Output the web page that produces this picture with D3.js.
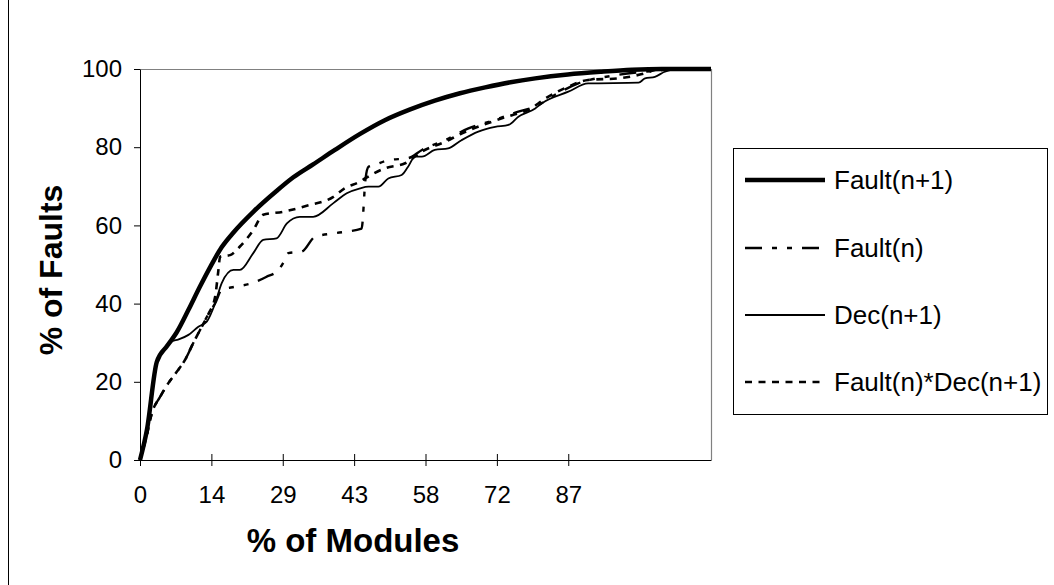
<!DOCTYPE html>
<html>
<head>
<meta charset="utf-8">
<script src="https://cdn.jsdelivr.net/npm/d3@7"></script>
<style>
  html, body { margin: 0; padding: 0; background: #fff; }
  svg { display: block; font-family: Arial, "Liberation Sans", sans-serif; }
</style>
</head>
<body>
<svg id="chart" width="1054" height="585"></svg>
<script>
// ---------------- data ----------------
const xTickStep = 14.43;
const xTickLabels = ["0", "14", "29", "43", "58", "72", "87"];
const yTickValues = [0, 20, 40, 60, 80, 100];
const xMax = 115.44;

const seriesNames = ["Fault(n+1)", "Fault(n)", "Dec(n+1)", "Fault(n)*Dec(n+1)"];

const faultN1 = [[0,0],[1.4,7.7],[3.4,25.1],[5.5,29.2],[7.4,32.6],[9.8,38.4],[12.1,44.3],[14.3,49.6],[16.5,54.4],[18.9,58.2],[23,63.6],[27.6,68.8],[31,72.3],[35,75.6],[39.4,79.3],[44.5,83.4],[49.5,86.9],[54.5,89.6],[59.6,91.9],[64.7,93.8],[69.8,95.3],[74.9,96.6],[79.9,97.6],[86.5,98.6],[93.3,99.3],[99.5,99.8],[105.5,100],[115.44,100]];

const faultN = [[0,0],[1.4,6.5],[2.4,12],[4,16],[5.7,19.6],[7.4,22.5],[9.1,25.6],[10.8,30],[12.5,34.1],[13.9,37.5],[15.2,40.1],[16.5,43.5],[19.2,44.3],[22.6,45.2],[25.5,46.8],[28,48.6],[29.3,51.2],[30,52.9],[32.7,53.3],[35.4,57.1],[39.4,58],[44.8,59.2],[45.6,72],[46.2,75],[47.5,75.5],[50.2,76.7],[54.2,77.2],[57,79.3],[61.7,81.8],[66.4,84.8],[71.8,87],[76.5,89.1],[79.9,90.4],[83.9,93.4],[88.6,96.3],[96.7,98.5],[105.5,99.7],[108,100],[115.44,100]];

const decN1 = [[0,0],[1.4,7.7],[3.4,25.1],[5.5,29.2],[6.5,30.4],[7.7,30.8],[9.8,32],[11.8,34.1],[13.5,35.4],[15.2,40.1],[16.5,45.2],[18.9,48.6],[20.2,48.6],[22.9,52.9],[24.9,56.3],[27.6,56.7],[29.7,60.5],[32.3,62.2],[35,62.2],[39.1,65.7],[41.8,68.2],[44.5,69.5],[46.2,69.9],[48.2,69.9],[50.2,72],[52.9,72.9],[54.2,75],[55.6,77.6],[57,77.6],[59.6,79.3],[62.3,79.7],[65,81.8],[68.4,84],[71.8,85.2],[74.5,85.7],[76.5,87.8],[79.9,89.9],[81.2,91.2],[86.6,94.2],[90.6,96.3],[100.8,96.5],[102.1,97.6],[104.1,98],[106.1,99.3],[108.2,100],[115.44,100]];

const faultNxDecN1 = [[0,0],[1.4,6.5],[2.4,12],[4,16],[5.7,19.6],[7.4,22.5],[9.1,25.6],[10.8,30],[12.5,34.1],[13.9,37.5],[15.2,41.8],[15.8,48],[16.2,52],[18.2,52.4],[20.2,54.6],[22.9,58.8],[24.9,62.7],[29,63.5],[33.7,65],[39.1,67.3],[41.4,69.5],[44.5,71.2],[45.5,72],[49.5,74.6],[53.6,75.9],[57,78.9],[61.7,81.4],[65,83.5],[71.1,86.5],[75.2,88.2],[78.5,89.5],[82,92.5],[86.6,95.5],[90.6,97.2],[96.7,97.6],[102.1,98.9],[105,100],[115.44,100]];

// ---------------- styles ----------------
const styles = [
  { w: 4.5, dash: null },
  { w: 2.4, dash: "17,10,5,10,5,10" },
  { w: 1.8, dash: null },
  { w: 2.6, dash: "7,6.5" }
];
const seriesData = [faultN1, faultN, decN1, faultNxDecN1];

// ---------------- layout ----------------
const svg = d3.select("#chart");
const plot = { left: 140, right: 711, top: 69, bottom: 460 };

const x = d3.scaleLinear().domain([0, xMax]).range([plot.left, plot.right]);
const y = d3.scaleLinear().domain([0, 100]).range([plot.bottom, plot.top]);

// outer left border line
svg.append("line").attr("x1", 8.5).attr("x2", 8.5).attr("y1", 0).attr("y2", 585)
  .attr("stroke", "#000").attr("stroke-width", 1);

// plot frame (top/right grey)
svg.append("path")
  .attr("d", `M${plot.left},${plot.top + 0.5}H${plot.right + 0.5}V${plot.bottom}`)
  .attr("fill", "none").attr("stroke", "#808080").attr("stroke-width", 1.2);

// curves
const line = d3.line().x(d => x(d[0])).y(d => y(d[1])).curve(d3.curveMonotoneX);
const gLines = svg.append("g");
[3, 2, 1, 0].forEach(i => {
  const p = gLines.append("path").datum(seriesData[i])
    .attr("d", line).attr("fill", "none").attr("stroke", "#000")
    .attr("stroke-width", styles[i].w).attr("stroke-linejoin", "round");
  if (styles[i].dash) p.attr("stroke-dasharray", styles[i].dash);
});

// y axis
const yAxis = svg.append("g").attr("transform", `translate(${plot.left},0)`)
  .call(d3.axisLeft(y).tickValues(yTickValues).tickSize(6).tickPadding(12).tickSizeOuter(0));
yAxis.select(".domain").attr("stroke", "#000");
yAxis.selectAll("text").attr("font-size", 24).attr("fill", "#000")
  .attr("font-family", "Arial, 'Liberation Sans', sans-serif");

// x axis
const xTickVals = xTickLabels.map((_, i) => i * xTickStep);
const xAxis = svg.append("g").attr("transform", `translate(0,${plot.bottom})`)
  .call(d3.axisBottom(x).tickValues(xTickVals).tickFormat((d, i) => xTickLabels[i])
    .tickSize(6).tickPadding(20).tickSizeOuter(0));
xAxis.select(".domain").attr("stroke", "#000");
xAxis.selectAll(".tick line").attr("y1", -6);
xAxis.selectAll("text").attr("font-size", 24).attr("fill", "#000")
  .attr("font-family", "Arial, 'Liberation Sans', sans-serif");

// axis titles
svg.append("text").attr("x", 353).attr("y", 552).attr("text-anchor", "middle")
  .attr("font-size", 33).attr("font-weight", "bold").text("% of Modules");
svg.append("text").attr("transform", "translate(62,270) rotate(-90)")
  .attr("text-anchor", "middle").attr("font-size", 32).attr("font-weight", "bold")
  .text("% of Faults");

// legend
const lg = svg.append("g");
lg.append("rect").attr("x", 733.5).attr("y", 148.5).attr("width", 314).attr("height", 266)
  .attr("fill", "#fff").attr("stroke", "#000").attr("stroke-width", 1);
const legendY = [180, 248, 315, 382];
seriesNames.forEach((name, i) => {
  const l = lg.append("line").attr("x1", 745).attr("x2", 825)
    .attr("y1", legendY[i]).attr("y2", legendY[i])
    .attr("stroke", "#000").attr("stroke-width", styles[i].w);
  if (styles[i].dash) l.attr("stroke-dasharray", styles[i].dash);
  lg.append("text").attr("x", 834).attr("y", legendY[i]).attr("dy", "0.35em")
    .attr("font-size", 26).attr("fill", "#000").text(name);
});
</script>
</body>
</html>
